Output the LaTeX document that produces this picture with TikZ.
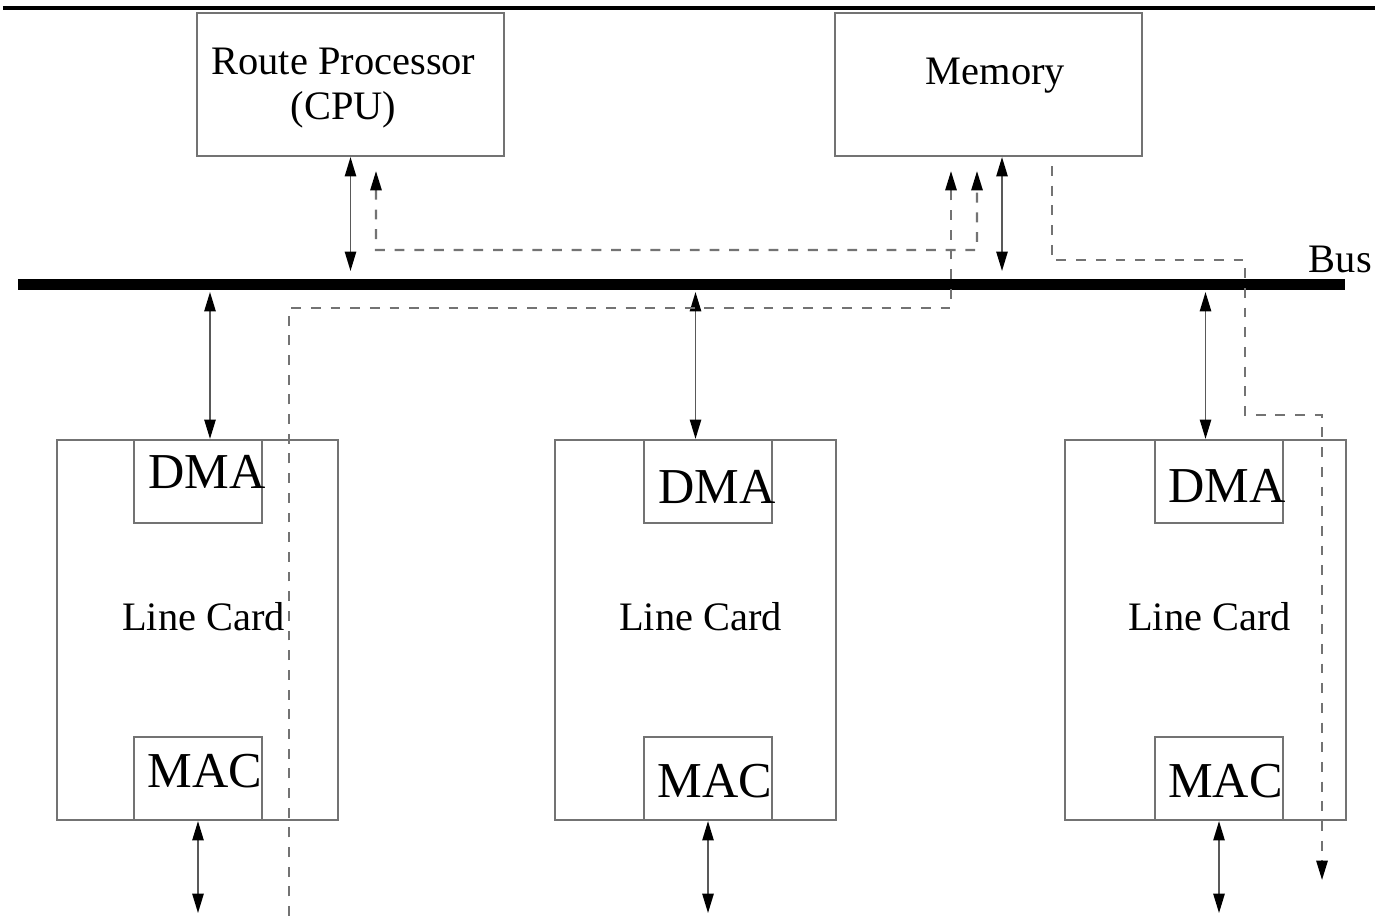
\documentclass[tikz,border=0pt]{standalone}
\usepackage{fontspec}
\setmainfont{Liberation Serif}
\usetikzlibrary{calc,arrows.meta}

\begin{document}
\begin{tikzpicture}[
    box/.style={draw=black!55, line width=.6pt, minimum width=3.07cm, minimum height=1.43cm, inner sep=0pt},
    card/.style={draw=black!55, line width=.6pt, minimum width=2.81cm, minimum height=3.80cm, inner sep=0pt},
    chip/.style={draw=black!55, line width=.6pt, minimum width=1.28cm, minimum height=.83cm, inner sep=0pt, anchor=north},
    txt/.style={inner sep=0pt, font=\fontsize{11.5}{12.8}\selectfont},
    big/.style={inner sep=0pt, font=\fontsize{14.3}{16}\selectfont},
    biarr/.style={draw=black!65, line width=.5pt, {Triangle[length=5.5pt,width=3.2pt,black]}-{Triangle[length=5.5pt,width=3.2pt,black]}},
    flow/.style={draw=black!55, line width=.6pt, dash pattern=on 2.8pt off 2.8pt, -{Triangle[length=5.5pt,width=3.2pt,black]}}
  ]
    \useasboundingbox (0, 0) rectangle (13.75, -9.16);
    \def\up{.135} \def\dn{.92}
    \coordinate (busL) at (.18, -2.845);
    \coordinate (busR) at (13.45, -2.845);
    \coordinate (busB) at (0, -2.92);

    % top rule and bus
    \draw[line width=.9pt] (.03, -.08) -- (13.75, -.08);
    \draw[line width=3pt] (busL) -- (busR) node[txt, above left, xshift=.32cm, yshift=.06cm] (buslbl) {Bus};

    % processor and memory
    \node[box] (cpu) at (3.505, -.845) {};
    \node[txt, align=center] (cputxt) at ($ (cpu) + (-.07, -.04) $) {Route Processor\\(CPU)};
    \node[box] (mem) at (9.885, -.845) {};
    \node[txt] (memtxt) at ($ (mem) + (.07, .09) $) {Memory};

    % line cards
    \node[card] (lc1) at (1.975, -6.30) {};
    \node[card] (lc2) at (6.955, -6.30) {};
    \node[card] (lc3) at (12.055, -6.30) {};
    \node[txt] (lc1txt) at ($ (lc1) + (.06, .13) $) {Line Card};
    \node[txt] (lc2txt) at ($ (lc2) + (.05, .13) $) {Line Card};
    \node[txt] (lc3txt) at ($ (lc3) + (.04, .13) $) {Line Card};

    \node[chip] (dma1) at ($ (lc1.north) + (.005, 0) $) {};
    \node[chip] (dma2) at ($ (lc2.north) + (.125, 0) $) {};
    \node[chip] (dma3) at ($ (lc3.north) + (.135, 0) $) {};
    \node[chip, anchor=south] (mac1) at ($ (lc1.south) + (.005, 0) $) {};
    \node[chip, anchor=south] (mac2) at ($ (lc2.south) + (.125, 0) $) {};
    \node[chip, anchor=south] (mac3) at ($ (lc3.south) + (.135, 0) $) {};
    \node[big] (dma1txt) at ($ (dma1.center) + (.09, .1) $) {DMA};
    \node[big] (dma2txt) at ($ (dma2.center) + (.09, -.05) $) {DMA};
    \node[big] (dma3txt) at ($ (dma3.center) + (.08, -.04) $) {DMA};
    \node[big] (mac1txt) at ($ (mac1.center) + (.07, .07) $) {MAC};
    \node[big] (mac2txt) at ($ (mac2.center) + (.07, -.03) $) {MAC};
    \node[big] (mac3txt) at ($ (mac3.center) + (.065, -.03) $) {MAC};

    % bus links
    \coordinate (memport) at ($ (mem.south) + (.135, 0) $);
    \coordinate (p1) at ($ (lc1.north) + (.125, 0) $);
    \draw[biarr] (cpu.south) -- ($ (cpu.south |- busL) + (0, \up) $);
    \draw[biarr] (memport) -- ($ (memport |- busL) + (0, \up) $);
    \draw[biarr] (p1 |- busB) -- (p1);
    \draw[biarr] (lc2.north |- busB) -- (lc2.north);
    \draw[biarr] (lc3.north |- busB) -- (lc3.north);
    \draw[biarr] (mac1.south) -- ++(0, -\dn);
    \draw[biarr] (mac2.south) -- ++(0, -\dn);
    \draw[biarr] (mac3.south) -- ++(0, -\dn);

    % data paths
    \coordinate (a) at ($ (cpu.south) + (.255, -.14) $);
    \coordinate (b) at ($ (mem.south) + (-.115, -.14) $);
    \coordinate (c) at ($ (mem.south) + (-.375, -.14) $);
    \coordinate (d) at ($ (mem.south) + (.635, -.09) $);
    \coordinate (inlet) at (2.89, -9.16);
    \coordinate (outlet) at (13.22, -8.80);
    \draw[flow, {Triangle[length=5.5pt,width=3.2pt,black]}-{Triangle[length=5.5pt,width=3.2pt,black]}] (a) -- (3.76, -2.50) -| (b);
    \draw[flow] (inlet) -- (2.89, -3.08) -| (c);
    \draw[flow] (d) |- (12.45, -2.60) |- (13.22, -4.15) -- (outlet);
\end{tikzpicture}
\end{document}
